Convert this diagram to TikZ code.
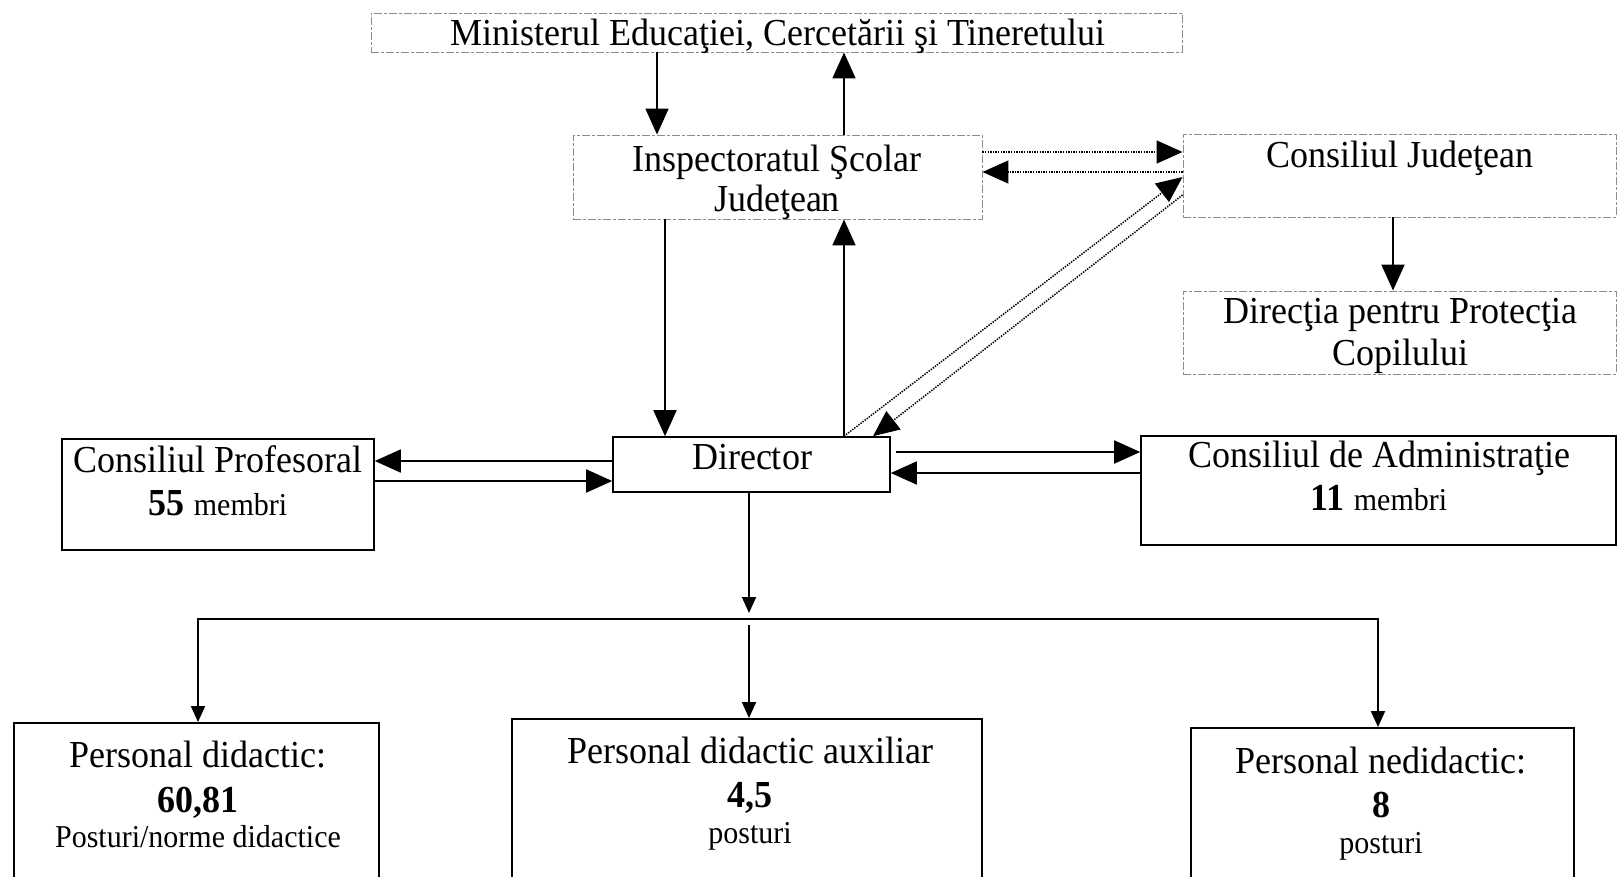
\documentclass[tikz,border=0pt]{standalone}
\usepackage{fontspec}
\setmainfont{Liberation Serif}
\usetikzlibrary{arrows.meta}
\newcommand{\tallt}[1]{\scalebox{1}[1.06]{#1}}
\tikzset{
  dbox/.style={draw=black!45, line width=0.9pt, dash pattern=on 8pt off 2pt on 3pt off 2pt, inner sep=0pt},
  sbox/.style={draw=black, line width=1.6pt, inner sep=0pt},
  tbox/.style={draw=black, line width=1.9pt, inner sep=0pt},
  big/.style={font=\fontsize{36}{40}\selectfont, inner sep=0pt, anchor=base},
  small/.style={font=\fontsize{30}{34}\selectfont, inner sep=0pt, anchor=base},
  arrbig/.style={line width=1.8pt, -{Triangle[length=26pt,width=23pt]}},
  arrdot/.style={line width=1.5pt, dash pattern=on 1.4pt off 1.2pt, -{Triangle[length=26pt,width=23pt]}},
  arrsm/.style={line width=1.8pt, -{Triangle[length=16pt,width=14pt]}},
}
\begin{document}
\begin{tikzpicture}[x=1pt,y=-1pt]
\useasboundingbox (0,0) rectangle (1617,876);
\clip (0,0) rectangle (1617,876);
\fill[white] (0,0) rectangle (1617,876);

% boxes
\node[dbox, minimum width=811pt, minimum height=39pt] (min) at (776.5,32.5) {};
\node[dbox, minimum width=409pt, minimum height=84pt] (insp) at (777.5,177) {};
\node[dbox, minimum width=433pt, minimum height=83pt] (cj) at (1399.5,175.5) {};
\node[dbox, minimum width=433pt, minimum height=83pt] (dcp) at (1399.5,332.5) {};
\node[sbox, minimum width=277pt, minimum height=55pt] (dir) at (751.5,464.5) {};
\node[sbox, minimum width=312pt, minimum height=111pt] (cp) at (218,494.5) {};
\node[sbox, minimum width=475pt, minimum height=109pt] (ca) at (1378.5,490.5) {};
\node[tbox, minimum width=365pt, minimum height=197pt] (pd) at (196.5,821.5) {};
\node[tbox, minimum width=470pt, minimum height=201pt] (pda) at (747,819.5) {};
\node[tbox, minimum width=383pt, minimum height=192pt] (pn) at (1382.5,824) {};

% texts
\node[big] (mint) at (778,45) {\tallt{Ministerul Educaţiei, Cercetării şi Tineretului}};
\node[big] (insp1) at (777,171) {\tallt{Inspectoratul Şcolar}};
\node[big] (insp2) at (777,211) {\tallt{Judeţean}};
\node[big] (cjt) at (1400,167) {\tallt{Consiliul Judeţean}};
\node[big] (dcp1) at (1400,323) {\tallt{Direcţia pentru Protecţia}};
\node[big] (dcp2) at (1400,365) {\tallt{Copilului}};
\node[big] (dirt) at (752,469) {\tallt{Director}};
\node[big] (cp1) at (218,472) {\tallt{Consiliul Profesoral}};
\node[big] (cp2) at (218,515) {\tallt{\textbf{55} {\fontsize{30}{34}\selectfont membri}}};
\node[big] (ca1) at (1379,467) {\tallt{Consiliul de Administraţie}};
\node[big] (ca2) at (1379,510) {\tallt{\textbf{11} {\fontsize{30}{34}\selectfont membri}}};
\node[big] (pd1) at (198,767) {\tallt{Personal didactic:}};
\node[big] (pd2) at (198,812) {\tallt{\textbf{60,81}}};
\node[small] (pd3) at (198,847) {\tallt{Posturi/norme didactice}};
\node[big] (pda1) at (750,763) {\tallt{Personal didactic auxiliar}};
\node[big] (pda2) at (750,807) {\tallt{\textbf{4,5}}};
\node[small] (pda3) at (750,843) {\tallt{posturi}};
\node[big] (pn1) at (1381,773) {\tallt{Personal nedidactic:}};
\node[big] (pn2) at (1381,817) {\tallt{\textbf{8}}};
\node[small] (pn3) at (1381,853) {\tallt{posturi}};

% helper coordinates
\coordinate (xa) at (657,0);
\coordinate (xb) at (844,0);
\coordinate (xc) at (665,0);
\coordinate (xe) at (873,0);
\coordinate (xf) at (1393,0);
\coordinate (xg) at (896,0);
\coordinate (ya) at (0,152);
\coordinate (yb) at (0,172);
\coordinate (yc) at (0,177);
\coordinate (yd) at (0,195);
\coordinate (ye) at (0,461);
\coordinate (yf) at (0,481);
\coordinate (yg) at (0,452);
\coordinate (yh) at (0,473);

% connectors
\draw[arrbig] (min.south -| xa) -- (insp.north -| xa);
\draw[arrbig] (insp.north -| xb) -- (min.south -| xb);
\draw[arrbig] (insp.south -| xc) -- (dir.north -| xc);
\draw[arrbig] (dir.north -| xb) -- (insp.south -| xb);
\draw[arrdot] (insp.east |- ya) -- (cj.west |- ya);
\draw[arrdot] (cj.west |- yb) -- (insp.east |- yb);
\draw[arrdot] (dir.north -| xb) -- (cj.west |- yc);
\draw[arrdot] (cj.west |- yd) -- (dir.north -| xe);
\draw[arrbig] (cj.south -| xf) -- (dcp.north -| xf);
\draw[arrbig] (dir.west |- ye) -- (cp.east |- ye);
\draw[arrbig] (cp.east |- yf) -- (dir.west |- yf);
\draw[arrbig] (xg |- yg) -- (ca.west |- yg);
\draw[arrbig] (ca.west |- yh) -- (dir.east |- yh);

% bottom tree
\coordinate (xm) at (749,0);
\coordinate (dtip) at (749,613);
\coordinate (busL) at (198,619);
\coordinate (busR) at (1378,619);
\coordinate (mtop) at (749,625);
\draw[arrsm] (dir.south -| xm) -- (dtip);
\draw[line width=2.4pt, line cap=rect] (busL) -- (busR);
\draw[arrsm] (busL) -- (pd.north -| busL);
\draw[arrsm] (busR) -- (pn.north -| busR);
\draw[arrsm] (mtop) -- (pda.north -| mtop);
\end{tikzpicture}
\end{document}
